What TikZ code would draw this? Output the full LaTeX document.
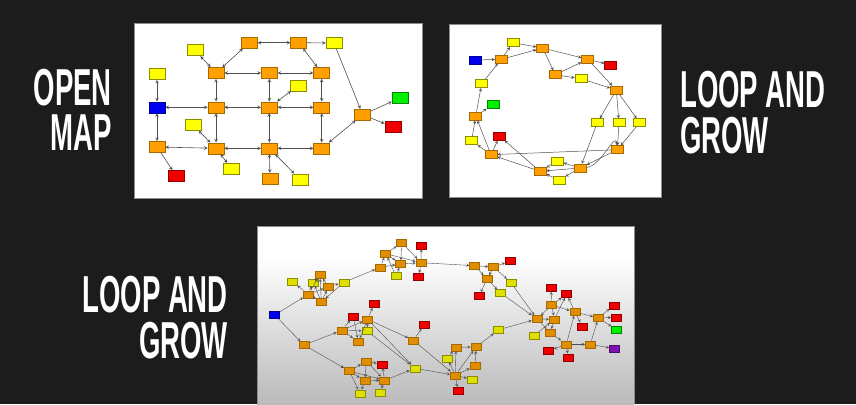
\documentclass[tikz,border=0pt]{standalone}
\usepackage{fontspec}
\newfontfamily\labelfont[FakeStretch=0.53]{Liberation Sans}
\usetikzlibrary{arrows}
\definecolor{backdrop}{HTML}{1C1C1C}
\definecolor{mapOrange}{HTML}{FFA000}
\definecolor{mapYellow}{HTML}{FFFF00}
\definecolor{mapRed}{HTML}{F00000}
\definecolor{mapBlue}{HTML}{0000F0}
\definecolor{mapGreen}{HTML}{00F000}
\definecolor{mapPurple}{HTML}{8010B0}
\definecolor{edgeGray}{HTML}{505050}
\tikzstyle{room} = [rectangle, inner sep=0pt, line width=0.6pt]
\tikzstyle{orangebox} = [room, draw=mapOrange!65!black, fill=mapOrange]
\tikzstyle{yellowbox} = [room, draw=mapYellow!55!black, fill=mapYellow]
\tikzstyle{redbox} = [room, draw=mapRed!60!black, fill=mapRed]
\tikzstyle{bluebox} = [room, draw=mapBlue!60!black, fill=mapBlue]
\tikzstyle{greenbox} = [room, draw=mapGreen!55!black, fill=mapGreen]
\tikzstyle{purplebox} = [room, draw=mapPurple!60!black, fill=mapPurple]
\tikzstyle{arrow} = [->, >=stealth, draw=edgeGray]
\tikzstyle{both} = [<->, >=stealth, draw=edgeGray]
\tikzstyle{panel} = [fill=white, draw=black!45, line width=0.8pt]
\tikzstyle{title} = [text=white, inner sep=0pt, font=\labelfont\bfseries\fontsize{52}{46}\selectfont]

\begin{document}
\begin{tikzpicture}[x=1pt, y=-1pt]
    \useasboundingbox (0,0) rectangle (856,404);
    \fill[backdrop] (0,0) rectangle (856,404);

    % titles
    \node (open) [title, anchor=north east] at (112,69) {OPEN};
    \node (map) [title, anchor=north east] at (112,115) {MAP};
    \node (loop1) [title, anchor=north west] at (680,71) {LOOP AND};
    \node (grow1) [title, anchor=north west] at (680,117) {GROW};
    \node (loop2) [title, anchor=north east] at (228,276) {LOOP AND};
    \node (grow2) [title, anchor=north east] at (228,322) {GROW};

    % panel 1: open map
    \draw[panel] (134,23) rectangle (422,198);
    \begin{scope}[every node/.style={minimum width=16pt, minimum height=11pt}, line width=0.6pt]
        \node (m-a1) [orangebox] at (249.3,42.7) {};
        \node (m-a2) [orangebox] at (298.7,42.7) {};
        \node (m-a3) [yellowbox] at (334,43) {};
        \node (m-y1) [yellowbox] at (195,50.3) {};
        \node (m-b1) [orangebox] at (216,73) {};
        \node (m-b2) [orangebox] at (269.3,73) {};
        \node (m-b3) [orangebox] at (321.7,73) {};
        \node (m-y2) [yellowbox] at (157,74) {};
        \node (m-y3) [yellowbox] at (298.7,85.3) {};
        \node (m-blue) [bluebox] at (157,107.3) {};
        \node (m-c1) [orangebox] at (216,107.3) {};
        \node (m-c2) [orangebox] at (269.3,107.3) {};
        \node (m-c3) [orangebox] at (321.7,107.3) {};
        \node (m-green) [greenbox] at (400,98) {};
        \node (m-hub) [orangebox] at (362.7,114.7) {};
        \node (m-red1) [redbox] at (393,127) {};
        \node (m-y4) [yellowbox] at (193,125) {};
        \node (m-d0) [orangebox] at (157,147) {};
        \node (m-d1) [orangebox] at (216,148.3) {};
        \node (m-d2) [orangebox] at (269.3,148.3) {};
        \node (m-d3) [orangebox] at (321.7,148.3) {};
        \node (m-red2) [redbox] at (176.3,176) {};
        \node (m-y5) [yellowbox] at (231.7,168.7) {};
        \node (m-e) [orangebox] at (270,178.7) {};
        \node (m-y6) [yellowbox] at (300,179.3) {};

        \foreach \a/\b in {a1/a2, a1/b1, y1/b1, a2/b3, b1/b2, b2/b3, b1/c1, b2/c2, b3/c3, y3/c2,
                y2/blue, blue/c1, c1/c2, c2/c3, blue/d0, c1/d1, c2/d2, c3/d3, y4/d1, d0/d1,
                d1/d2, d2/d3, d1/y5, d2/e, d2/y6, d3/hub}
            \draw [both] (m-\a) -- (m-\b);
        \foreach \a/\b in {a2/a3, d0/red2, a3/hub, hub/green, hub/red1}
            \draw [arrow] (m-\a) -- (m-\b);
    \end{scope}

    % panel 2: loop and grow
    \draw[panel] (449,24) rectangle (661,197);
    \begin{scope}[every node/.style={minimum width=12pt, minimum height=8pt}, line width=0.5pt]
        \node (l-yt) [yellowbox] at (513,42.7) {};
        \node (l-o1) [orangebox] at (542.7,48) {};
        \node (l-blue) [bluebox] at (475.7,60) {};
        \node (l-o2) [orangebox] at (501.3,59.3) {};
        \node (l-o3) [orangebox] at (587.7,59.3) {};
        \node (l-red1) [redbox] at (610.7,65) {};
        \node (l-o4) [orangebox] at (555.3,74.7) {};
        \node (l-y1) [yellowbox] at (581,78.7) {};
        \node (l-o5) [orangebox] at (616.3,90) {};
        \node (l-y2) [yellowbox] at (481.7,83.7) {};
        \node (l-green) [greenbox] at (493,104.7) {};
        \node (l-o6) [orangebox] at (475.7,116) {};
        \node (l-y3) [yellowbox] at (597.3,122.7) {};
        \node (l-y4) [yellowbox] at (619,122.7) {};
        \node (l-y5) [yellowbox] at (639.7,122.7) {};
        \node (l-y6) [yellowbox] at (471.7,140.7) {};
        \node (l-red2) [redbox] at (499.7,136.3) {};
        \node (l-o7) [orangebox] at (491,154.7) {};
        \node (l-o8) [orangebox] at (617.3,149.7) {};
        \node (l-y7) [yellowbox] at (557.3,161) {};
        \node (l-o9) [orangebox] at (580.3,168) {};
        \node (l-o10) [orangebox] at (540,171.3) {};
        \node (l-y8) [yellowbox] at (559,180) {};

        \foreach \a/\b in {blue/o2, o2/yt, yt/o1, o2/o1, o1/o3, o1/o4, o4/o3, o3/red1, o4/y1,
                y1/o5, o3/o5, o5/y3, o5/y4, o5/y5, y2/o2, o6/y2, o6/green, y6/o6, o7/o6,
                o7/y6, o7/red2, o8/o7, y4/o8, y5/o8, y3/o9, o10/red2, o10/o7, o9/y7, o9/y8,
                o9/o10, y7/o10, y8/o10, o8/o9}
            \draw [arrow] (l-\a) -- (l-\b);
        \draw [arrow] (l-o9) to[out=5, in=95] (l-o8);
    \end{scope}

    % panel 3: loop and grow, larger
    \fill[white] (257,226) rectangle (634,404);
    \shade[top color=white, bottom color=black!27] (257,255) rectangle (634,404);
    \draw[black!45, line width=0.8pt] (257,404) -- (257,226) -- (634,226) -- (634,404);
    \begin{scope}[every node/.style={minimum width=10pt, minimum height=7pt}, line width=0.4pt,
            orangebox/.append style={fill=mapOrange!88!black}, yellowbox/.append style={fill=mapYellow!88!black}]
        % cluster A
        \node (g-A1) [yellowbox] at (292.7,281.7) {};
        \node (g-A2) [orangebox] at (320,275) {};
        \node (g-A3) [yellowbox] at (313.3,282.3) {};
        \node (g-A4) [orangebox] at (328.7,286.7) {};
        \node (g-A5) [yellowbox] at (344,282.3) {};
        \node (g-A6) [orangebox] at (308.3,294.3) {};
        \node (g-A7) [orangebox] at (321.3,302) {};
        \node (g-blue) [bluebox] at (274.7,315) {};
        % cluster B
        \node (g-B1) [orangebox] at (401.7,242.7) {};
        \node (g-B2) [redbox] at (421.3,245.3) {};
        \node (g-B3) [orangebox] at (385.7,253.7) {};
        \node (g-B4) [orangebox] at (400.7,264) {};
        \node (g-B5) [orangebox] at (421,262.7) {};
        \node (g-B6) [orangebox] at (380.3,267.3) {};
        \node (g-B7) [yellowbox] at (396,276) {};
        \node (g-B8) [redbox] at (418.7,276.7) {};
        % cluster C
        \node (g-C1) [orangebox] at (474.7,265.7) {};
        \node (g-C2) [orangebox] at (493.7,267) {};
        \node (g-C3) [redbox] at (510.3,261) {};
        \node (g-C4) [orangebox] at (487,279) {};
        \node (g-C5) [yellowbox] at (511,282.7) {};
        \node (g-C6) [redbox] at (479,296) {};
        \node (g-C7) [yellowbox] at (500.7,293) {};
        % cluster D
        \node (g-D1) [redbox] at (551,288) {};
        \node (g-D2) [redbox] at (566.7,294) {};
        \node (g-D3) [orangebox] at (551.7,305) {};
        \node (g-D4) [orangebox] at (575,312) {};
        \node (g-D5) [redbox] at (614,305.3) {};
        \node (g-D6) [orangebox] at (537,319) {};
        \node (g-D7) [orangebox] at (554.3,319.3) {};
        \node (g-D8) [orangebox] at (598.3,318) {};
        \node (g-D9) [redbox] at (616.3,317.3) {};
        \node (g-D10) [redbox] at (582.3,326.3) {};
        \node (g-D11) [yellowbox] at (534,335.7) {};
        \node (g-D12) [orangebox] at (550.3,332.7) {};
        \node (g-D13) [greenbox] at (616.7,329.7) {};
        \node (g-D14) [orangebox] at (566.3,344.3) {};
        \node (g-D15) [orangebox] at (590.3,344.3) {};
        \node (g-D16) [redbox] at (548.7,351) {};
        \node (g-D17) [redbox] at (568.3,357.3) {};
        \node (g-D18) [purplebox] at (614.3,348.7) {};
        % cluster E
        \node (g-E1) [redbox] at (374,304) {};
        \node (g-E2) [redbox] at (353.3,316.3) {};
        \node (g-E3) [orangebox] at (367.7,319.3) {};
        \node (g-E4) [orangebox] at (342,330.3) {};
        \node (g-E5) [yellowbox] at (367,331) {};
        \node (g-E6) [orangebox] at (358.3,341.7) {};
        \node (g-E7) [orangebox] at (304,345) {};
        \node (g-E8) [redbox] at (424.3,325) {};
        \node (g-E9) [orangebox] at (413.3,340.3) {};
        \node (g-E10) [yellowbox] at (498.7,329.7) {};
        % cluster F
        \node (g-F1) [orangebox] at (366.3,361.3) {};
        \node (g-F2) [redbox] at (382,364.3) {};
        \node (g-F3) [orangebox] at (349.3,371) {};
        \node (g-F4) [orangebox] at (365,381) {};
        \node (g-F5) [orangebox] at (384.7,380.3) {};
        \node (g-F6) [yellowbox] at (360,393.3) {};
        \node (g-F7) [yellowbox] at (380,392.3) {};
        \node (g-F8) [yellowbox] at (415,368.3) {};
        % cluster G
        \node (g-G1) [orangebox] at (456,347.3) {};
        \node (g-G2) [orangebox] at (476,347) {};
        \node (g-G3) [yellowbox] at (447.3,358.3) {};
        \node (g-G4) [orangebox] at (475,366) {};
        \node (g-G5) [orangebox] at (455.3,375.3) {};
        \node (g-G6) [yellowbox] at (472.3,379.3) {};
        \node (g-G7) [redbox] at (458,390.7) {};

        \foreach \a/\b in {blue/A6, blue/E7, A6/A1, A6/A2, A6/A3, A7/A2, A7/A4, A7/A3, A6/A7,
                A4/A2, A4/A5, A2/A3, A6/A4, A5/A7, A5/B6,
                B6/B3, B3/B1, B1/B5, B3/B4, B4/B5, B3/B5, B1/B4, B7/B3, B7/B4, B5/B2, B5/B8,
                B6/B4, B5/C1,
                C1/C2, C2/C3, C2/C4, C1/C4, C4/C6, C4/C7, C2/C5, C5/D6, C7/D6,
                D6/D7, D3/D6, D3/D1, D3/D2, D3/D4, D7/D2, D4/D2, D4/D8, D4/D10, D8/D5, D8/D9,
                D8/D13, D15/D8, D14/D15, D15/D18, D12/D14, D14/D16, D14/D17, D7/D12, D11/D7,
                D6/D12, D14/D4, D3/D7, E10/D6, G2/E10,
                E7/E4, E4/E2, E4/E3, E4/E5, E4/E6, E2/E6, E3/E1, E3/E6, E3/E9, E9/E8, E3/E5,
                E5/F8, E3/F8, E9/G5, E7/F3,
                F3/F1, F3/F4, F3/F6, F1/F2, F1/F5, F1/F4, F5/F2, F4/F5, F5/F7, F4/F6, F3/F5,
                F5/F8, F8/G5,
                G1/G2, G5/G1, G5/G2, G4/G2, G5/G4, G5/G3, G5/G6, G5/G7, G3/G1}
            \draw [arrow] (g-\a) -- (g-\b);
    \end{scope}
\end{tikzpicture}
\end{document}
